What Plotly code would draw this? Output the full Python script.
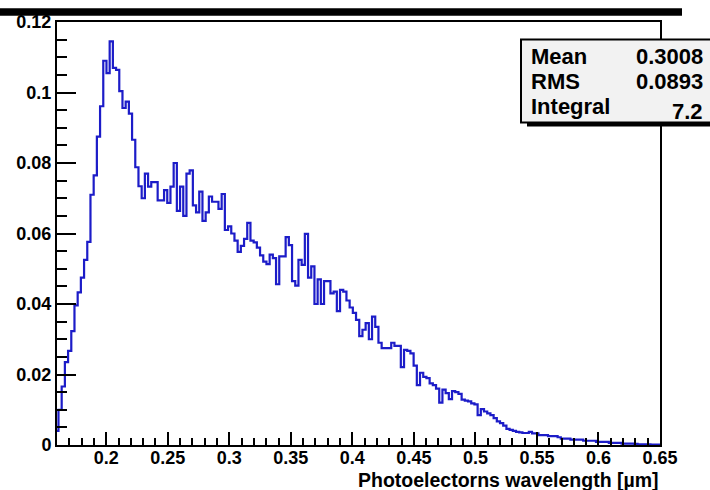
import numpy as np
import plotly.graph_objects as go

# Histogram binning (bin width in µm, index of first visible bin)
BIN_W = 0.0026
FIRST_BIN = 61

# Bin contents (left to right)
rise = [0.004, 0.010, 0.0166, 0.0235, 0.0267, 0.0323, 0.0396, 0.0433, 0.0475, 0.0525, 0.0576]
peak = [0.071, 0.0765, 0.0875, 0.0961, 0.109, 0.1055, 0.1145, 0.107, 0.1064, 0.1004, 0.0956,
        0.0974, 0.094, 0.0866]
plateau = [0.0788, 0.0734, 0.070, 0.077, 0.0733, 0.0746, 0.0746, 0.0694, 0.0694, 0.0723, 0.0687,
           0.0733, 0.080, 0.0664, 0.0733, 0.065, 0.077, 0.0779, 0.068, 0.066,
           0.0719, 0.0636, 0.066, 0.0705, 0.069, 0.069, 0.067, 0.0712]
slope1 = [0.061, 0.062, 0.060, 0.058, 0.0548, 0.0565, 0.0585, 0.063, 0.058, 0.0575, 0.056, 0.0538,
          0.052, 0.0513, 0.054, 0.053, 0.0456, 0.0535, 0.0535, 0.059, 0.0567, 0.0465, 0.0452,
          0.0525, 0.0511, 0.0599, 0.0475, 0.0507]
slope2 = [0.040, 0.047, 0.040, 0.0465, 0.0465, 0.043, 0.0435, 0.038, 0.044, 0.0435, 0.041, 0.039,
          0.0375, 0.0355, 0.0309, 0.0327, 0.0346, 0.030, 0.0364, 0.0335]
slope3 = [0.029, 0.0275, 0.0275, 0.0275, 0.029, 0.0281, 0.0281, 0.0221, 0.027, 0.0267, 0.026,
          0.0225, 0.017, 0.0205, 0.0193, 0.019, 0.0175, 0.017, 0.016]
slope4 = [0.012, 0.0157, 0.0147, 0.013, 0.0153, 0.015, 0.0145, 0.0129, 0.0126, 0.0124, 0.0118,
          0.0115, 0.0085, 0.0102, 0.0095, 0.009, 0.0085, 0.0076, 0.0067, 0.0062]
tail = [0.0055, 0.0046, 0.0043, 0.004, 0.0037, 0.0036, 0.0034, 0.0034, 0.0037, 0.0033, 0.0033,
        0.0028, 0.0028, 0.0028, 0.0025, 0.0025, 0.0025, 0.0022, 0.0018, 0.0018, 0.0018, 0.0015,
        0.0015, 0.0015, 0.0015, 0.0012, 0.0012, 0.0012, 0.0012, 0.0009, 0.0009, 0.0009, 0.0009,
        0.0006, 0.0006, 0.0006, 0.0006, 0.0004, 0.0004, 0.0004, 0.0004, 0.0003, 0.0002, 0.0002,
        0.0002, 0.0002, 0.0001, 0.0001, 0.0001]

values = rise + peak + plateau + slope1 + slope2 + slope3 + slope4 + tail

# Stats box
stat_names = ["Mean", "RMS", "Integral"]
stat_values = ["0.3008", "0.0893", "7.2"]

x_title = "Photoelectorns wavelength [µm]"
y_ticks = [0, 0.02, 0.04, 0.06, 0.08, 0.1, 0.12]

edges = BIN_W * (FIRST_BIN + np.arange(len(values) + 1))
ys = values + [values[-1]]

fig = go.Figure()
fig.add_trace(go.Scatter(x=edges, y=ys, mode="lines", line=dict(shape="hv", color="#1c1cc8", width=2.2),
                         showlegend=False, hoverinfo="skip"))

FONT = "Liberation Sans, Arial, sans-serif"

W, H = 710, 490
ML, MR, MT, MB = 57, 50, 12, 45
PW, PH = W - ML - MR, H - MT - MB


def px(x):
    return (x - ML) / PW


def py(y):
    return (H - MB - y) / PH


fig.update_layout(
    width=W, height=H,
    margin=dict(l=ML, r=MR, t=MT, b=MB, pad=0),
    paper_bgcolor="white", plot_bgcolor="white",
    font=dict(family=FONT, color="black"),
    xaxis=dict(range=[0.16, 0.65], tick0=0.2, dtick=0.05, ticks="inside", ticklen=13, tickwidth=2,
               tickcolor="black", showline=True, linecolor="black", linewidth=2, mirror=True,
               showgrid=False, zeroline=False, ticklabelstandoff=-5,
               tickfont=dict(family=FONT, size=18, weight="bold", color="black"),
               minor=dict(dtick=0.01, ticks="inside", ticklen=7, tickwidth=1.5, tickcolor="black",
                          showgrid=False)),
    yaxis=dict(range=[0, 0.12], tickvals=y_ticks, ticktext=[f"{v:g}" for v in y_ticks],
               ticks="inside", ticklen=19, tickwidth=2,
               tickcolor="black", showline=True, linecolor="black", linewidth=2, mirror=True,
               showgrid=False, zeroline=False,
               tickfont=dict(family=FONT, size=18, weight="bold", color="black"),
               minor=dict(dtick=0.005, tick0=0, ticks="inside", ticklen=10, tickwidth=1.5,
                          tickcolor="black", showgrid=False)),
)

shapes = [
    # top black canvas bar
    dict(type="rect", xref="paper", yref="paper", x0=px(0), x1=px(682), y0=py(5.5), y1=py(-2),
         fillcolor="black", line=dict(width=0), layer="above"),
    # stats box shadow
    dict(type="rect", xref="paper", yref="paper", x0=px(527), x1=px(716), y0=py(119), y1=py(34),
         fillcolor="black", line=dict(width=0), layer="above"),
    # stats box
    dict(type="rect", xref="paper", yref="paper", x0=px(521), x1=px(713), y0=py(115), y1=py(30),
         fillcolor="#f2f2f2", line=dict(color="black", width=2), layer="above"),
]
fig.update_layout(shapes=shapes)

stat_y = [47, 73, 99]
val_y = [47, 73, 104]
ann = []
for name, val, yn, yv in zip(stat_names, stat_values, stat_y, val_y):
    ann.append(dict(text=name, xref="paper", yref="paper", x=px(529), y=py(yn), xanchor="left",
                    yanchor="middle", showarrow=False,
                    font=dict(family=FONT, size=22, weight="bold", color="black")))
    ann.append(dict(text=val, xref="paper", yref="paper", x=px(705), y=py(yv), xanchor="right",
                    yanchor="middle", showarrow=False,
                    font=dict(family=FONT, size=22, weight="bold", color="black")))
ann.append(dict(text=x_title, xref="paper", yref="paper", x=px(661), y=py(481), xanchor="right",
                yanchor="middle", showarrow=False,
                font=dict(family=FONT, size=19.5, weight="bold", color="black")))
fig.update_layout(annotations=ann)

fig.write_html("out.html", config={"displayModeBar": False},
               post_script="document.body.style.margin='0';document.body.style.overflow='hidden';")
